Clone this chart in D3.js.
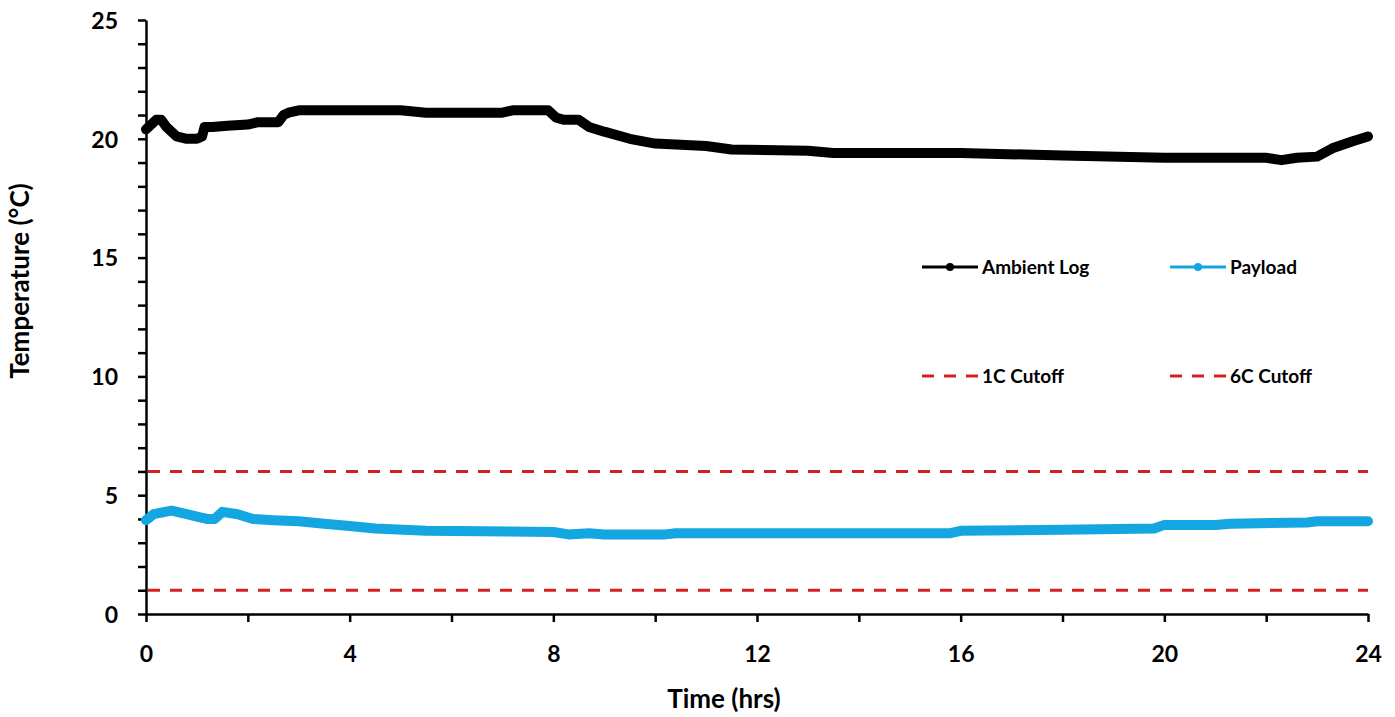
<!DOCTYPE html>
<html>
<head>
<meta charset="utf-8">
<script src="https://cdn.jsdelivr.net/npm/d3@7"></script>
<style>
  body { margin: 0; background: #fff; }
  text { font-family: Lato, "Open Sans", sans-serif; font-weight: bold; fill: #000; }
</style>
</head>
<body>
<div id="chart"></div>
<script>
// hours since start
const ambientTime = [0, 0.1, 0.2, 0.3, 0.4, 0.5, 0.6, 0.8, 1.0, 1.1, 1.15, 1.3, 1.6, 2.0, 2.2, 2.6, 2.7, 2.8, 3.0, 4.0, 5.0, 5.5, 7.0, 7.2, 7.9, 8.05, 8.2, 8.5, 8.7, 9.0, 9.5, 10.0, 11.0, 11.5, 13.0, 13.5, 16.0, 18.0, 20.0, 22.0, 22.3, 22.6, 23.0, 23.3, 23.7, 24.0];
const ambientTemp = [20.4, 20.6, 20.8, 20.8, 20.5, 20.3, 20.1, 20.0, 20.0, 20.1, 20.5, 20.5, 20.55, 20.6, 20.7, 20.7, 21.0, 21.1, 21.2, 21.2, 21.2, 21.1, 21.1, 21.2, 21.2, 20.9, 20.8, 20.8, 20.5, 20.3, 20.0, 19.8, 19.7, 19.55, 19.5, 19.4, 19.4, 19.3, 19.2, 19.2, 19.1, 19.2, 19.25, 19.6, 19.9, 20.1];

const payloadTime = [0, 0.15, 0.5, 0.8, 1.0, 1.2, 1.35, 1.5, 1.8, 2.1, 2.5, 3.0, 3.5, 4.0, 4.5, 5.5, 8.0, 8.3, 8.7, 9.0, 10.2, 10.4, 15.8, 16.0, 18.0, 19.8, 20.0, 21.0, 21.3, 22.8, 23.0, 24.0];
const payloadTemp = [3.95, 4.2, 4.35, 4.2, 4.1, 4.0, 4.0, 4.3, 4.2, 4.0, 3.95, 3.9, 3.8, 3.7, 3.6, 3.5, 3.45, 3.35, 3.4, 3.35, 3.35, 3.4, 3.4, 3.5, 3.55, 3.6, 3.75, 3.75, 3.8, 3.85, 3.9, 3.9];

const cutoffValues = [1, 6];
const xTicks = [0, 4, 8, 12, 16, 20, 24];
const yTicks = [0, 5, 10, 15, 20, 25];

const legendLabels = ["Ambient Log", "Payload", "1C Cutoff", "6C Cutoff"];

const ambientColor = "#000000";
const payloadColor = "#14a6e0";
const cutoffColor = "#d42020";

const width = 1395, height = 717;
const margin = {top: 20, right: 27, bottom: 103, left: 146};

const svg = d3.select("#chart").append("svg")
    .attr("width", width)
    .attr("height", height);

const x = d3.scaleLinear().domain([0, 24]).range([margin.left, width - margin.right]);
const y = d3.scaleLinear().domain([0, 25]).range([height - margin.bottom, margin.top]);

// axes (minor ticks every 2 hrs / 1 degree, labels only on the major ones)
const xAxis = d3.axisBottom(x)
    .tickValues(d3.range(0, 25, 2))
    .tickSize(8)
    .tickSizeOuter(0)
    .tickFormat(d => xTicks.includes(d) ? d : "");
const yAxis = d3.axisLeft(y)
    .tickValues(d3.range(0, 26, 1))
    .tickSize(8)
    .tickSizeOuter(0)
    .tickFormat(d => yTicks.includes(d) ? d : "");

const gx = svg.append("g")
    .attr("transform", `translate(0,${y(0)})`)
    .call(xAxis);
const gy = svg.append("g")
    .attr("transform", `translate(${x(0)},0)`)
    .call(yAxis);

[gx, gy].forEach(g => {
    g.select(".domain").attr("stroke", "#000").attr("stroke-width", 2.5);
    g.selectAll(".tick line").attr("stroke", "#000").attr("stroke-width", 2.5);
    g.selectAll(".tick text").style("font-size", "23px");
});
gx.selectAll(".tick text").attr("dy", 0).attr("y", 48);
gy.selectAll(".tick text").attr("x", -28).attr("dy", "0.36em");

// axis titles
svg.append("text")
    .attr("x", 724)
    .attr("y", 708)
    .attr("text-anchor", "middle")
    .style("font-size", "26px")
    .text("Time (hrs)");
svg.append("text")
    .attr("transform", "translate(29,281) rotate(-90)")
    .attr("text-anchor", "middle")
    .style("font-size", "26px")
    .text("Temperature (°C)");

// cutoff lines
svg.selectAll(".cutoff")
    .data(cutoffValues)
    .join("line")
    .attr("class", "cutoff")
    .attr("x1", x(0) + 2)
    .attr("x2", x(24))
    .attr("y1", d => y(d))
    .attr("y2", d => y(d))
    .attr("stroke", cutoffColor)
    .attr("stroke-width", 3)
    .attr("stroke-dasharray", "12,10");

// the logged series - thick line stands in for the dense marker trail
const line = d3.line().x(d => x(d[0])).y(d => y(d[1]));
const ambient = ambientTime.map((t, i) => [t, ambientTemp[i]]);
const payload = payloadTime.map((t, i) => [t, payloadTemp[i]]);

svg.append("path")
    .datum(payload)
    .attr("d", line)
    .attr("fill", "none")
    .attr("stroke", payloadColor)
    .attr("stroke-width", 10)
    .attr("stroke-linejoin", "round")
    .attr("stroke-linecap", "round");

svg.append("path")
    .datum(ambient)
    .attr("d", line)
    .attr("fill", "none")
    .attr("stroke", ambientColor)
    .attr("stroke-width", 10)
    .attr("stroke-linejoin", "round")
    .attr("stroke-linecap", "round");

// legend 2x2
const legendPos = [[922, 267], [1170, 267], [922, 376], [1170, 376]];
const legendKind = ["ambient", "payload", "cutoff", "cutoff"];
const legend = svg.append("g");
legendLabels.forEach((label, i) => {
    const [lx, ly] = legendPos[i];
    const g = legend.append("g").attr("transform", `translate(${lx},${ly})`);
    if (legendKind[i] === "cutoff") {
        g.append("line")
            .attr("x1", 0).attr("x2", 56).attr("y1", 0).attr("y2", 0)
            .attr("stroke", cutoffColor)
            .attr("stroke-width", 3)
            .attr("stroke-dasharray", "12,10");
    } else {
        const c = legendKind[i] === "ambient" ? ambientColor : payloadColor;
        g.append("line")
            .attr("x1", 0).attr("x2", 56).attr("y1", 0).attr("y2", 0)
            .attr("stroke", c)
            .attr("stroke-width", 3);
        g.append("circle").attr("cx", 28).attr("cy", 0).attr("r", 4).attr("fill", c);
    }
    g.append("text")
        .attr("x", 60)
        .attr("y", 0)
        .attr("dy", "0.35em")
        .style("font-size", "19px")
        .text(label);
});
</script>
</body>
</html>
